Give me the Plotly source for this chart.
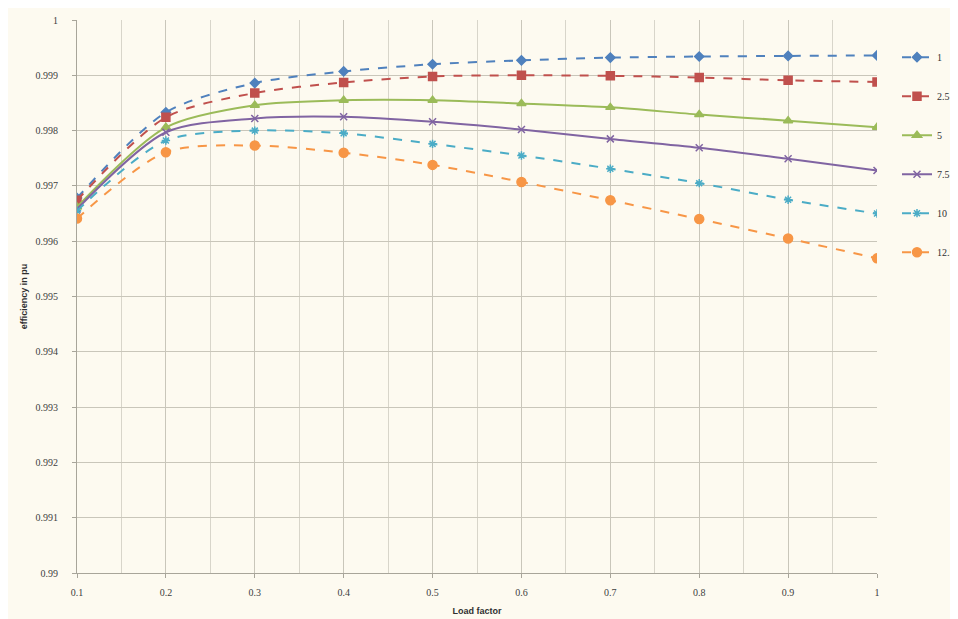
import plotly.graph_objects as go

load_factor = [0.1, 0.2, 0.3, 0.4, 0.5, 0.6, 0.7, 0.8, 0.9, 1.0]
eff_1 = [0.99678, 0.99833, 0.99886, 0.99907, 0.99920, 0.99927, 0.99932, 0.99934, 0.99935, 0.99936]
eff_2_5 = [0.99674, 0.99824, 0.99868, 0.99887, 0.99898, 0.99900, 0.99899, 0.99896, 0.99891, 0.99888]
eff_5 = [0.99662, 0.99806, 0.99846, 0.99855, 0.99855, 0.99849, 0.99842, 0.99829, 0.99818, 0.99806]
eff_7_5 = [0.99658, 0.99797, 0.99822, 0.99825, 0.99816, 0.99802, 0.99785, 0.99769, 0.99749, 0.99728]
eff_10 = [0.99655, 0.99782, 0.99800, 0.99795, 0.99776, 0.99755, 0.99731, 0.99705, 0.99675, 0.99650]
eff_12_5 = [0.99641, 0.99761, 0.99773, 0.99760, 0.99738, 0.99707, 0.99674, 0.99640, 0.99605, 0.99569]

series_names = ["1", "2.5", "5", "7.5", "10", "12.5"]
series_values = [eff_1, eff_2_5, eff_5, eff_7_5, eff_10, eff_12_5]
colors = ["#4F81BD", "#C0504D", "#9BBB59", "#8064A2", "#4BACC6", "#F79646"]
symbols = ["diamond", "square", "triangle-up", "x-thin-open", "asterisk-open", "circle"]
marker_sizes = [7, 8, 8, 7, 7, 9]
dashes = ["dash", "dash", "solid", "solid", "dash", "dash"]

y_ticks = [0.99 + i * 0.001 for i in range(11)]
y_labels = ["0.99", "0.991", "0.992", "0.993", "0.994", "0.995", "0.996", "0.997", "0.998", "0.999", "1"]
x_ticks = [0.1, 0.2, 0.3, 0.4, 0.5, 0.6, 0.7, 0.8, 0.9, 1.0]
x_labels = ["0.1", "0.2", "0.3", "0.4", "0.5", "0.6", "0.7", "0.8", "0.9", "1"]

fig = go.Figure()
for name, vals, c, s, ms, d in zip(series_names, series_values, colors, symbols, marker_sizes, dashes):
    fig.add_trace(go.Scatter(
        x=load_factor, y=vals, name=name, mode="lines+markers",
        line=dict(color=c, width=2, dash=d, shape="spline", smoothing=0.8),
        marker=dict(symbol=s, size=ms, color=c, line=dict(color=c, width=1.5)),
        legendgroup=name,
    ))

bg = "#FDFAF0"
grid = "#C9C6BA"
fig.update_layout(
    width=958, height=619,
    paper_bgcolor=bg, plot_bgcolor=bg,
    margin=dict(l=69, r=78, t=6, b=54),
    font=dict(family="Liberation Serif", size=10, color="#404040"),
    legend=dict(
        x=1.025, y=0.959, xanchor="left", yanchor="top",
        bgcolor="rgba(0,0,0,0)", font=dict(size=10, family="Liberation Serif", color="#303030"),
        tracegroupgap=20, itemwidth=30,
    ),
    xaxis=dict(
        range=[0.1, 1.0], tickvals=x_ticks, ticktext=x_labels,
        showgrid=True, gridcolor=grid, gridwidth=1,
        minor=dict(dtick=0.05, tick0=0.1, showgrid=True, gridcolor="#D8D5CA", gridwidth=1),
        showline=True, linecolor="#A8A59A", linewidth=1,
        ticks="outside", ticklen=4, tickcolor="#A8A59A", ticklabelstandoff=6,
        zeroline=False,
        title=dict(text="<b>Load factor</b>", font=dict(family="Liberation Sans", size=9, color="#303030"), standoff=10),
    ),
    yaxis=dict(
        range=[0.99, 1.0], tickvals=y_ticks, ticktext=y_labels,
        showgrid=True, gridcolor=grid, gridwidth=1,
        showline=True, linecolor="#A8A59A", linewidth=1,
        ticks="outside", ticklen=4, tickcolor="#A8A59A", ticklabelstandoff=12,
        zeroline=False,
        title=dict(text="<b>efficiency in pu</b>", font=dict(family="Liberation Sans", size=9, color="#303030"), standoff=6),
    ),
)

fig.write_html("out.html")
